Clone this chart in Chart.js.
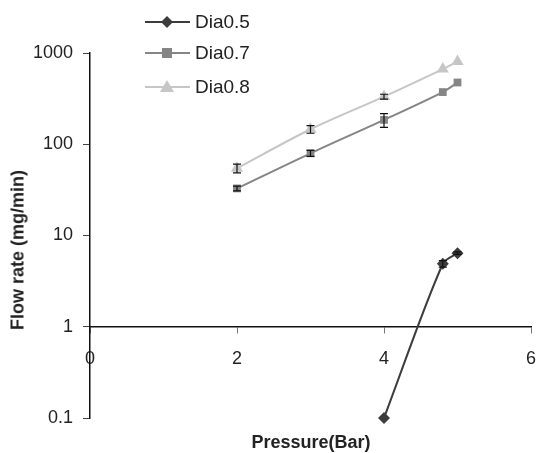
<!DOCTYPE html>
<html>
<head>
<meta charset="utf-8">
<script src="https://cdn.jsdelivr.net/npm/chart.js@4.4.1/dist/chart.umd.min.js"></script>
<style>
  html, body { margin: 0; padding: 0; background: #fff; }
  #wrap { position: relative; width: 539px; height: 453px; font-family: "Liberation Sans", Arial, sans-serif; color: #222; }
  canvas { position: absolute; left: 0; top: 0; }
  .legend { position: absolute; left: 145px; top: 8px; font-size: 19px; }
  .legend .item { position: absolute; left: 0; height: 20px; width: 120px; }
  .legend svg { position: absolute; left: 0; top: 0; }
  .legend span { position: absolute; left: 50px; top: 0; line-height: 20px; white-space: nowrap; }
  .ytitle { position: absolute; left: 18px; top: 250px; transform: translate(-50%, -50%) rotate(-90deg); font-weight: bold; font-size: 18px; white-space: nowrap; }
  .xtitle { position: absolute; left: 311px; top: 442px; transform: translate(-50%, -50%); font-weight: bold; font-size: 18px; white-space: nowrap; }
</style>
</head>
<body>
<div id="wrap">
  <canvas id="c" width="539" height="453"></canvas>
  <div class="legend" id="legend"></div>
  <div class="ytitle">Flow rate (mg/min)</div>
  <div class="xtitle">Pressure(Bar)</div>
</div>
<script>
// ---- data ----
const seriesNames = ["Dia0.5", "Dia0.7", "Dia0.8"];
const pressure05 = [4, 4.8, 5];
const flow05 = [0.1, 4.9, 6.4];
const err05 = [0, 0.4, 0.2];
const pressure07 = [2, 3, 4, 4.8, 5];
const flow07 = [32.8, 79.6, 185, 373, 475];
const err07 = [2, 6, 32, 0, 0];
const pressure08 = [2, 3, 4, 4.8, 5];
const flow08 = [54.5, 146, 333, 667, 809];
const err08 = [6, 14, 20, 0, 0];
const xTicks = [0, 2, 4, 6];
const yTicks = [0.1, 1, 10, 100, 1000];

const colors = ["#3c3c3c", "#858585", "#c6c6c6"];
const markers = ["rectRot", "rect", "triangle"];
const radii = [6, 5.5, 7];

function pts(xs, ys, es) { return xs.map((x, i) => ({ x: x, y: ys[i], e: es[i] })); }

const datasets = [
  { label: seriesNames[0], data: pts(pressure05, flow05, err05) },
  { label: seriesNames[1], data: pts(pressure07, flow07, err07) },
  { label: seriesNames[2], data: pts(pressure08, flow08, err08) }
].map((d, i) => Object.assign(d, {
  showLine: true,
  clip: false,
  borderColor: colors[i],
  backgroundColor: colors[i],
  borderWidth: 2,
  pointStyle: markers[i],
  pointRadius: radii[i],
  pointBorderWidth: 0,
  tension: 0.3
}));

const errorBars = {
  id: 'errorBars',
  afterDatasetsDraw(chart) {
    const ctx = chart.ctx, ys = chart.scales.y;
    ctx.save();
    ctx.strokeStyle = '#111';
    ctx.lineWidth = 1.2;
    chart.data.datasets.forEach((ds, di) => {
      const meta = chart.getDatasetMeta(di);
      ds.data.forEach((p, i) => {
        if (!p.e) return;
        const el = meta.data[i];
        const x = el.x;
        const y1 = ys.getPixelForValue(p.y + p.e);
        const y2 = ys.getPixelForValue(Math.max(p.y - p.e, 0.0001));
        ctx.beginPath();
        ctx.moveTo(x, y1); ctx.lineTo(x, y2);
        ctx.moveTo(x - 4, y1); ctx.lineTo(x + 4, y1);
        ctx.moveTo(x - 4, y2); ctx.lineTo(x + 4, y2);
        ctx.stroke();
      });
    });
    ctx.restore();
  }
};

Chart.defaults.font.family = '"Liberation Sans", Arial, sans-serif';
Chart.defaults.font.size = 18;
Chart.defaults.color = '#222';

new Chart(document.getElementById('c'), {
  type: 'scatter',
  data: { datasets: datasets },
  options: {
    responsive: false,
    animation: false,
    layout: { padding: { left: 0, right: 8, top: 53, bottom: 35 } },
    plugins: { legend: { display: false }, tooltip: { enabled: false } },
    scales: {
      x: {
        type: 'linear',
        position: { y: 1 },
        min: 0, max: 6,
        afterBuildTicks: (s) => { s.ticks = xTicks.map(v => ({ value: v })); },
        afterFit: (s) => { s.paddingLeft = 0; s.paddingRight = 0; },
        ticks: { padding: 15, color: '#222', maxRotation: 0 },
        grid: { drawOnChartArea: false, tickLength: 6, color: '#777', tickColor: '#777' },
        border: { color: '#111', width: 1.5 }
      },
      y: {
        type: 'logarithmic',
        position: 'left',
        min: 0.1, max: 1000,
        afterBuildTicks: (s) => { s.ticks = yTicks.map(v => ({ value: v })); },
        afterFit: (s) => { s.width = 90; },
        ticks: { padding: 10, color: '#222', callback: (v) => String(v) },
        grid: { drawOnChartArea: false, tickLength: 7, color: '#444', tickColor: '#444' },
        border: { color: '#111', width: 1.5 }
      }
    }
  },
  plugins: [errorBars]
});

// HTML legend
const legend = document.getElementById('legend');
const legendTops = [4, 35, 69];
seriesNames.forEach((name, i) => {
  const item = document.createElement('div');
  item.className = 'item';
  item.style.top = legendTops[i] + 'px';
  let marker = '';
  if (i === 0) marker = '<polygon points="22,4 28,10 22,16 16,10" fill="' + colors[i] + '"/>';
  if (i === 1) marker = '<rect x="17" y="5" width="10" height="10" fill="' + colors[i] + '"/>';
  if (i === 2) marker = '<polygon points="22,3 29,15 15,15" fill="' + colors[i] + '"/>';
  item.innerHTML = '<svg width="46" height="20"><line x1="0" y1="10" x2="45" y2="10" stroke="' + colors[i] + '" stroke-width="2"/>' + marker + '</svg><span>' + name + '</span>';
  legend.appendChild(item);
});
</script>
</body>
</html>
